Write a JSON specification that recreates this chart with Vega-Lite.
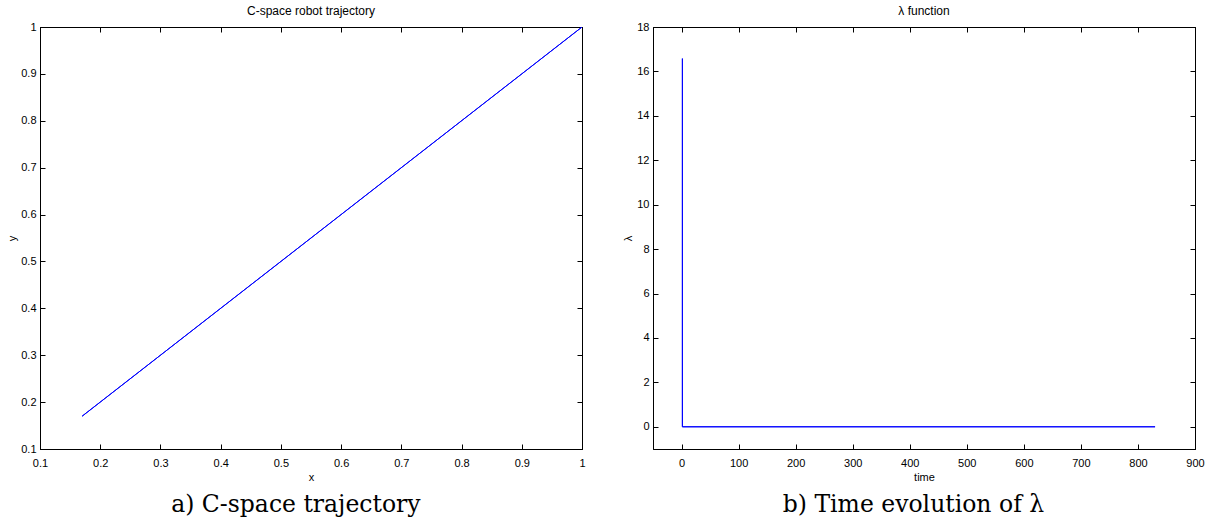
{
  "$schema": "https://vega.github.io/schema/vega-lite/v6.json",
  "background": "white",
  "padding": {"left": 6, "top": 4, "right": 5, "bottom": 2},
  "datasets": {
    "traj": [{"x": 0.17, "y": 0.17}, {"x": 1.0, "y": 1.0}],
    "lam": [{"time": 1.5, "lambda": 16.58}, {"time": 1.5, "lambda": 0}, {"time": 830, "lambda": 0}]
  },
  "config": {
    "view": {"stroke": "black", "strokeWidth": 1},
    "font": "Liberation Sans",
    "axis": {
      "grid": false,
      "domainColor": "black", "domainWidth": 1,
      "tickColor": "black", "tickWidth": 1, "tickSize": -5,
      "labelColor": "black", "labelFont": "Liberation Sans", "labelFontSize": 11, "labelPadding": 9,
      "labelFlush": false, "labelOverlap": false,
      "titleColor": "black", "titleFont": "Liberation Sans", "titleFontSize": 11, "titleFontWeight": "normal", "titlePadding": 3
    },
    "axisX": {"labelPadding": 13},
    "title": {"font": "Liberation Sans", "fontSize": 12, "fontWeight": "normal", "color": "black"}
  },
  "spacing": 36,
  "hconcat": [
    {
      "title": {"text": "a) C-space trajectory", "orient": "bottom", "anchor": "middle", "font": "DejaVu Serif", "fontSize": 23.5, "fontWeight": "normal", "color": "black", "offset": 10},
      "vconcat": [
        {
          "width": 542, "height": 422,
          "title": {"text": "C-space robot trajectory", "anchor": "middle", "frame": "group", "offset": 3},
          "data": {"name": "traj"},
          "layer": [
            {
              "mark": {"type": "line", "color": "#0000ff", "strokeWidth": 1, "clip": true},
              "encoding": {
                "x": {"field": "x", "type": "quantitative", "scale": {"domain": [0.1, 1], "nice": false, "zero": false},
                      "axis": {"title": "x", "values": [0.1,0.2,0.3,0.4,0.5,0.6,0.7,0.8,0.9,1], "format": ".1~f"}},
                "y": {"field": "y", "type": "quantitative", "scale": {"domain": [0.1, 1], "nice": false, "zero": false},
                      "axis": {"title": "y", "values": [0.1,0.2,0.3,0.4,0.5,0.6,0.7,0.8,0.9,1], "format": ".1~f"}}
              }
            },
            {
              "mark": {"type": "line", "color": "#0000ff", "strokeWidth": 1, "clip": true},
              "encoding": {
                "x": {"field": "x", "type": "quantitative", "axis": {"orient": "top", "title": null, "labels": false, "values": [0.1,0.2,0.3,0.4,0.5,0.6,0.7,0.8,0.9,1]}},
                "y": {"field": "y", "type": "quantitative", "axis": {"orient": "right", "title": null, "labels": false, "values": [0.1,0.2,0.3,0.4,0.5,0.6,0.7,0.8,0.9,1]}}
              }
            }
          ],
          "resolve": {"axis": {"x": "independent", "y": "independent"}}
        }
      ]
    },
    {
      "title": {"text": "b) Time evolution of λ", "orient": "bottom", "anchor": "middle", "font": "DejaVu Serif", "fontSize": 23.5, "fontWeight": "normal", "color": "black", "offset": 10},
      "vconcat": [
        {
          "width": 542, "height": 422,
          "title": {"text": "λ function", "anchor": "middle", "frame": "group", "offset": 3},
          "data": {"name": "lam"},
          "layer": [
            {
              "mark": {"type": "line", "color": "#0000ff", "strokeWidth": 1, "clip": true},
              "encoding": {
                "x": {"field": "time", "type": "quantitative", "scale": {"domain": [-50, 900], "nice": false, "zero": false},
                      "axis": {"title": "time", "values": [0,100,200,300,400,500,600,700,800,900]}},
                "y": {"field": "lambda", "type": "quantitative", "scale": {"domain": [-1, 18], "nice": false, "zero": false},
                      "axis": {"title": "λ", "values": [0,2,4,6,8,10,12,14,16,18]}}
              }
            },
            {
              "mark": {"type": "line", "color": "#0000ff", "strokeWidth": 1, "clip": true},
              "encoding": {
                "x": {"field": "time", "type": "quantitative", "axis": {"orient": "top", "title": null, "labels": false, "values": [0,100,200,300,400,500,600,700,800,900]}},
                "y": {"field": "lambda", "type": "quantitative", "axis": {"orient": "right", "title": null, "labels": false, "values": [0,2,4,6,8,10,12,14,16,18]}}
              }
            }
          ],
          "resolve": {"axis": {"x": "independent", "y": "independent"}}
        }
      ]
    }
  ]
}
